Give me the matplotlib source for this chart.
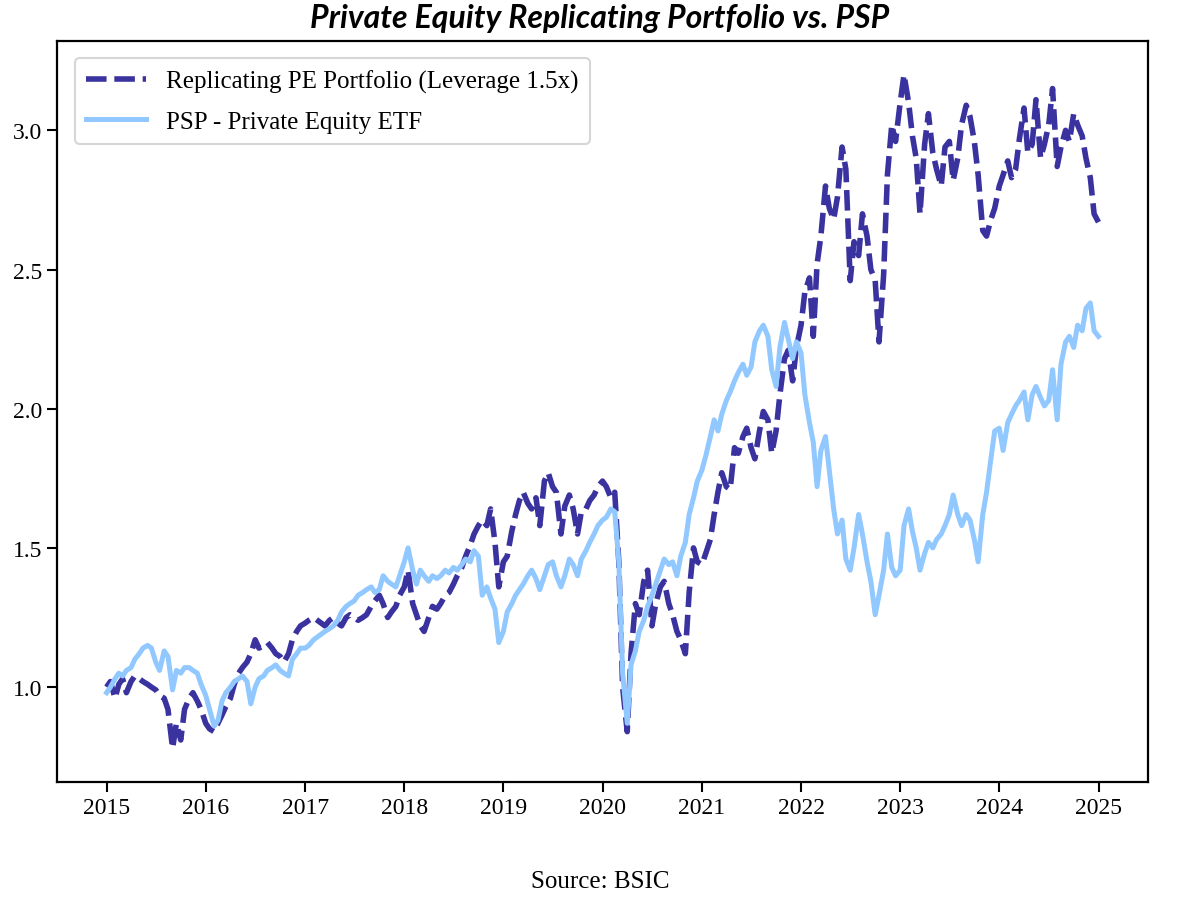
import matplotlib
matplotlib.use('Agg')
import matplotlib.pyplot as plt
import matplotlib.dates as mdates
import pandas as pd

# semi-monthly readings (1st and 15th of each month), one row per year, last value = 31 Dec 2024
rep_values = [
    1.00, 1.02, 0.96, 1.01, 1.03, 0.98, 1.02, 1.04, 1.03, 1.02, 1.01, 1.00, 0.99, 0.97, 0.96, 0.92, 0.78, 0.87, 0.81, 0.92, 0.96, 0.98, 0.95, 0.92,  # 2015
    0.87, 0.85, 0.84, 0.87, 0.90, 0.93, 0.96, 1.01, 1.05, 1.07, 1.09, 1.12, 1.17, 1.14, 1.15, 1.16, 1.14, 1.12, 1.11, 1.09, 1.12, 1.17, 1.20, 1.22,  # 2016
    1.23, 1.24, 1.25, 1.24, 1.23, 1.22, 1.24, 1.25, 1.23, 1.22, 1.25, 1.26, 1.25, 1.24, 1.25, 1.26, 1.29, 1.31, 1.33, 1.30, 1.25, 1.27, 1.29, 1.33,  # 2017
    1.36, 1.42, 1.30, 1.26, 1.22, 1.20, 1.25, 1.29, 1.28, 1.30, 1.33, 1.34, 1.37, 1.40, 1.43, 1.47, 1.51, 1.55, 1.58, 1.60, 1.58, 1.64, 1.52, 1.36,  # 2018
    1.45, 1.47, 1.56, 1.62, 1.67, 1.70, 1.66, 1.64, 1.68, 1.58, 1.74, 1.77, 1.72, 1.70, 1.55, 1.65, 1.69, 1.64, 1.55, 1.63, 1.64, 1.67, 1.69, 1.72,  # 2019
    1.74, 1.72, 1.68, 1.70, 1.45, 1.00, 0.84, 1.12, 1.30, 1.26, 1.38, 1.42, 1.22, 1.30, 1.36, 1.38, 1.30, 1.26, 1.20, 1.17, 1.12, 1.34, 1.50, 1.45,  # 2020
    1.44, 1.48, 1.53, 1.62, 1.70, 1.77, 1.72, 1.71, 1.86, 1.84, 1.90, 1.93, 1.86, 1.82, 1.92, 1.99, 1.96, 1.84, 1.92, 2.05, 2.18, 2.21, 2.10, 2.22,  # 2021
    2.30, 2.42, 2.47, 2.26, 2.52, 2.62, 2.80, 2.72, 2.68, 2.76, 2.94, 2.86, 2.46, 2.60, 2.55, 2.70, 2.62, 2.50, 2.46, 2.24, 2.48, 2.84, 3.02, 2.96,  # 2022
    3.10, 3.20, 3.10, 2.98, 2.90, 2.70, 2.95, 3.06, 2.92, 2.86, 2.80, 2.94, 2.96, 2.82, 2.90, 3.02, 3.09, 3.05, 2.96, 2.84, 2.64, 2.62, 2.68, 2.72,  # 2023
    2.80, 2.84, 2.89, 2.83, 2.86, 2.97, 3.08, 2.92, 2.95, 3.11, 2.90, 2.95, 3.02, 3.15, 2.87, 2.94, 3.00, 2.96, 3.06, 3.02, 2.98, 2.90, 2.83, 2.70,  # 2024
    2.67,
]

psp_values = [
    0.98, 1.00, 1.03, 1.05, 1.04, 1.06, 1.07, 1.10, 1.12, 1.14, 1.15, 1.14, 1.09, 1.06, 1.13, 1.11, 0.99, 1.06, 1.05, 1.07, 1.07, 1.06, 1.05, 1.01,  # 2015
    0.97, 0.92, 0.86, 0.88, 0.95, 0.98, 1.00, 1.02, 1.03, 1.04, 1.02, 0.94, 1.00, 1.03, 1.04, 1.06, 1.07, 1.08, 1.06, 1.05, 1.04, 1.10, 1.12, 1.14,  # 2016
    1.14, 1.15, 1.17, 1.18, 1.19, 1.20, 1.21, 1.22, 1.24, 1.27, 1.29, 1.30, 1.31, 1.33, 1.34, 1.35, 1.36, 1.34, 1.35, 1.40, 1.38, 1.37, 1.36, 1.40,  # 2017
    1.45, 1.50, 1.42, 1.37, 1.42, 1.40, 1.38, 1.40, 1.39, 1.40, 1.42, 1.41, 1.43, 1.42, 1.44, 1.46, 1.45, 1.49, 1.47, 1.33, 1.36, 1.32, 1.28, 1.16,  # 2018
    1.20, 1.27, 1.30, 1.33, 1.35, 1.37, 1.40, 1.42, 1.39, 1.35, 1.40, 1.44, 1.45, 1.40, 1.36, 1.40, 1.46, 1.44, 1.40, 1.46, 1.49, 1.52, 1.55, 1.58,  # 2019
    1.60, 1.61, 1.64, 1.63, 1.45, 1.05, 0.87, 1.08, 1.13, 1.20, 1.24, 1.29, 1.33, 1.37, 1.42, 1.46, 1.44, 1.45, 1.40, 1.47, 1.52, 1.62, 1.68, 1.74,  # 2020
    1.78, 1.83, 1.90, 1.96, 1.92, 1.98, 2.03, 2.06, 2.10, 2.13, 2.16, 2.12, 2.15, 2.24, 2.28, 2.30, 2.26, 2.14, 2.08, 2.22, 2.31, 2.25, 2.18, 2.24,  # 2021
    2.20, 2.05, 1.95, 1.88, 1.72, 1.85, 1.90, 1.78, 1.64, 1.55, 1.60, 1.46, 1.42, 1.50, 1.62, 1.55, 1.45, 1.38, 1.26, 1.33, 1.42, 1.55, 1.43, 1.40,  # 2022
    1.42, 1.58, 1.64, 1.56, 1.50, 1.42, 1.48, 1.52, 1.50, 1.53, 1.55, 1.58, 1.62, 1.69, 1.62, 1.58, 1.62, 1.60, 1.53, 1.45, 1.62, 1.70, 1.82, 1.92,  # 2023
    1.93, 1.85, 1.95, 1.98, 2.01, 2.03, 2.06, 1.96, 2.05, 2.08, 2.04, 2.01, 2.03, 2.14, 1.96, 2.16, 2.24, 2.26, 2.22, 2.30, 2.28, 2.36, 2.38, 2.28,  # 2024
    2.26,
]

dates = list(pd.date_range('2015-01-01', periods=240, freq='SMS')) + [pd.Timestamp('2024-12-31')]

rep_label = 'Replicating PE Portfolio (Leverage 1.5x)'
psp_label = 'PSP - Private Equity ETF'
title = 'Private Equity Replicating Portfolio vs. PSP'
source = 'Source: BSIC'

dark_blue = '#3A329F'
light_blue = '#91C8FF'

plt.rcParams['font.family'] = ['Liberation Serif', 'DejaVu Serif']

fig = plt.figure(figsize=(12, 9.12), dpi=100)
ax = fig.add_axes([0.0475, 0.1414, 0.9092, 0.8126])

ax.plot(dates, rep_values, color=dark_blue, linewidth=4, linestyle='--',
        dashes=(3.7, 1.4), label=rep_label)
ax.plot(dates, psp_values, color=light_blue, linewidth=3.6, label=psp_label)

ax.xaxis.set_major_locator(mdates.YearLocator())
ax.xaxis.set_major_formatter(mdates.DateFormatter('%Y'))
ax.tick_params(labelsize=17, width=1.5, length=7)
for s in ax.spines.values():
    s.set_linewidth(1.6)

leg = ax.legend(loc='upper left', fontsize=18, handlelength=2.4,
                edgecolor='#cccccc', borderpad=0.45, labelspacing=0.7,
                borderaxespad=0.7)
leg.get_frame().set_linewidth(1.5)

fig.text(0.5, 0.980, title, ha='center', va='center', fontsize=23,
         family=['Lato', 'DejaVu Sans'], fontweight='bold', fontstyle='italic')
fig.text(0.5, 0.033, source, ha='center', va='center', fontsize=18)

fig.savefig('out.png', dpi=100)
